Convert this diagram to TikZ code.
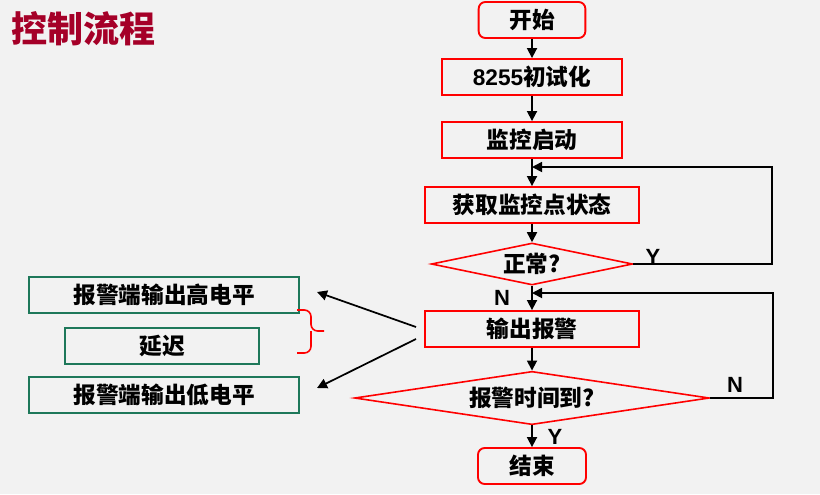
\documentclass[tikz,border=0pt]{standalone}
\usepackage{fontspec}
\setmainfont{Noto Sans CJK SC}
\newfontfamily\latin{Liberation Sans}
\usetikzlibrary{arrows.meta,positioning,shapes.geometric}
\definecolor{boxred}{RGB}{255,0,0}
\definecolor{boxgreen}{RGB}{30,120,90}
\definecolor{titlered}{RGB}{165,0,40}
\definecolor{slidebg}{RGB}{242,242,242}

\begin{document}
\begin{tikzpicture}[x=0.75pt,y=-0.75pt,
  every node/.style={font=\fontsize{17}{19}\selectfont\bfseries},
  proc/.style={draw=boxred, line width=1.4pt, minimum height=27pt, inner sep=0pt},
  term/.style={proc, rounded corners=5pt},
  test/.style={diamond, draw=boxred, line width=1.2pt, inner sep=0pt},
  act/.style={draw=boxgreen, line width=1.4pt, minimum height=27pt, inner sep=0pt},
  flow/.style={line width=1.3pt, -{Triangle[length=7.5pt,width=7.5pt]}},
  lbl/.style={font=\latin\fontsize{16.5}{18}\selectfont\bfseries}]
% Background
\fill[slidebg] (0,0) rectangle (820,494);
\useasboundingbox (0,0) rectangle (820,494);
% Title
\node[font=\fontsize{27}{30}\selectfont\bfseries, text=titlered] (title) at (84,29) {控制流程};
% Main column
\node[term, minimum width=80pt]  (start) at (532,20)  {开始};
\node[proc, minimum width=135pt] (init)  at (532,77)  {{\latin 8255}初试化};
\node[proc, minimum width=135pt] (mon)   at (532,140) {监控启动};
\node[proc, minimum width=161pt] (scan)  at (532,205) {获取监控点状态};
\node[test, aspect=4.8, minimum width=151pt, minimum height=31.5pt] (ok) at (532,264) {正常?};
\node[proc, minimum width=161pt] (alarm) at (532,329) {输出报警};
\node[test, aspect=6.65, minimum width=266pt, minimum height=40pt] (due) at (532,398) {报警时间到?};
\node[term, minimum width=81pt]  (stop)  at (532,466) {结束};
% Output actions
\node[act, minimum width=202pt]   (high)  at (164,295) {报警端输出高电平};
\node[act, minimum width=145.5pt] (delay) at (162,346) {延迟};
\node[act, minimum width=202pt]   (low)   at (164,395) {报警端输出低电平};
% Flow
\draw[flow] (start) -- (init);
\draw[flow] (init) -- (mon);
\draw[flow] (mon) -- (scan);
\draw[flow] (scan) -- (ok);
\draw[flow] (ok) -- (alarm);
\draw[flow] (alarm) -- (due);
\draw[flow] (due) -- (stop);
% Loops back
\coordinate (backA) at (772,167);
\coordinate (backB) at (773,293);
\draw[flow] (ok.east) -| (backA) -- (backA -| mon.south);
\draw[flow] (due.east) -| (backB) -- (backB -| alarm.north);
% Labels
\node[lbl] (yesA) at (653,257) {Y};
\node[lbl] (noA)  at (502,298) {N};
\node[lbl] (noB)  at (735,385) {N};
\node[lbl] (yesB) at (555,437) {Y};
% Alarm outputs
\coordinate (splitHi) at (416,327);
\coordinate (splitLo) at (416,339);
\coordinate (hiEnd) at (317,292);
\coordinate (loEnd) at (317,388);
\draw[flow] (splitHi) -- (hiEnd);
\draw[flow] (splitLo) -- (loEnd);
% Brace
\draw[boxred, line width=1.2pt, rounded corners=5pt]
  (297,310) -- (311,310) -- (311,331) -- (324,331)
  (311,331) -- (311,353) -- (297,353);
\end{tikzpicture}
\end{document}
